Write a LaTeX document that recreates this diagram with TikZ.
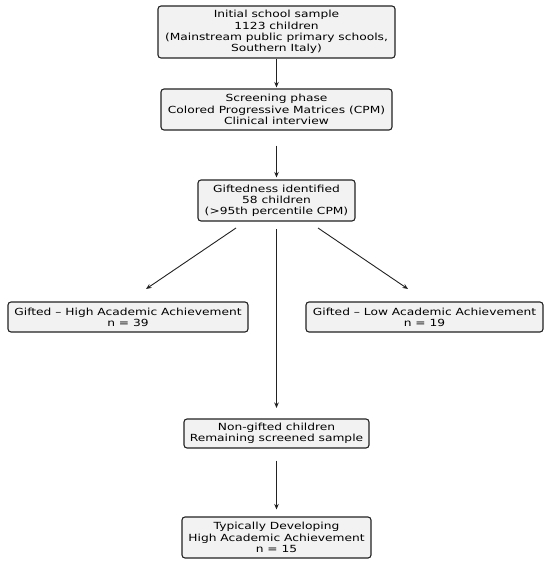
\documentclass[tikz,border=0pt]{standalone}
\usepackage{fontspec}
\setmainfont{DejaVu Sans}[FakeStretch=1.25]
\usetikzlibrary{arrows.meta}
\definecolor{boxfill}{HTML}{F2F2F2}
\definecolor{edge}{HTML}{222222}
\begin{document}
\begin{tikzpicture}[x=1pt,y=-1pt,
  box/.style={draw=edge,fill=boxfill,rounded corners=3pt,line width=1.1pt,align=center,
    inner sep=0pt,font=\fontsize{9.8}{11.2}\selectfont},
  arr/.style={draw=edge,line width=0.9pt,-{Stealth[length=5.5pt,width=4.5pt]}}]
\useasboundingbox (0,0) rectangle (550,564);
\node[box,minimum width=237pt,minimum height=52pt] (init) at (276.5,32) {Initial school sample\\1123 children\\(Mainstream public primary schools,\\Southern Italy)};
\node[box,minimum width=231pt,minimum height=41pt] (screen) at (276.5,109.5) {Screening phase\\Colored Progressive Matrices (CPM)\\Clinical interview};
\node[box,minimum width=157pt,minimum height=41pt] (gift) at (276.5,200.5) {Giftedness identified\\58 children\\(>95th percentile CPM)};
\node[box,minimum width=240pt,minimum height=30pt] (high) at (128,317) {Gifted – High Academic Achievement\\n = 39};
\node[box,minimum width=237pt,minimum height=30pt] (low) at (424.5,317) {Gifted – Low Academic Achievement\\n = 19};
\node[box,minimum width=185pt,minimum height=29pt] (non) at (276.5,433.5) {Non-gifted children\\Remaining screened sample};
\node[box,minimum width=189pt,minimum height=41pt] (typ) at (276.5,537.5) {Typically Developing\\High Academic Achievement\\n = 15};
\coordinate (gl) at (236,228);
\coordinate (gr) at (318,228);
\coordinate (gm) at (276.5,229);
\coordinate (hl) at (146,289);
\coordinate (hr) at (408,289);
\coordinate (nm) at (276.5,408);
\draw[arr,shorten >=1pt] (init) -- (screen);
\draw[arr,shorten <=15pt,shorten >=2pt] (screen) -- (gift);
\draw[arr] (gl) -- (hl);
\draw[arr] (gr) -- (hr);
\draw[arr] (gm) -- (nm);
\draw[arr,shorten <=12pt,shorten >=7pt] (non) -- (typ);
\end{tikzpicture}
\end{document}
